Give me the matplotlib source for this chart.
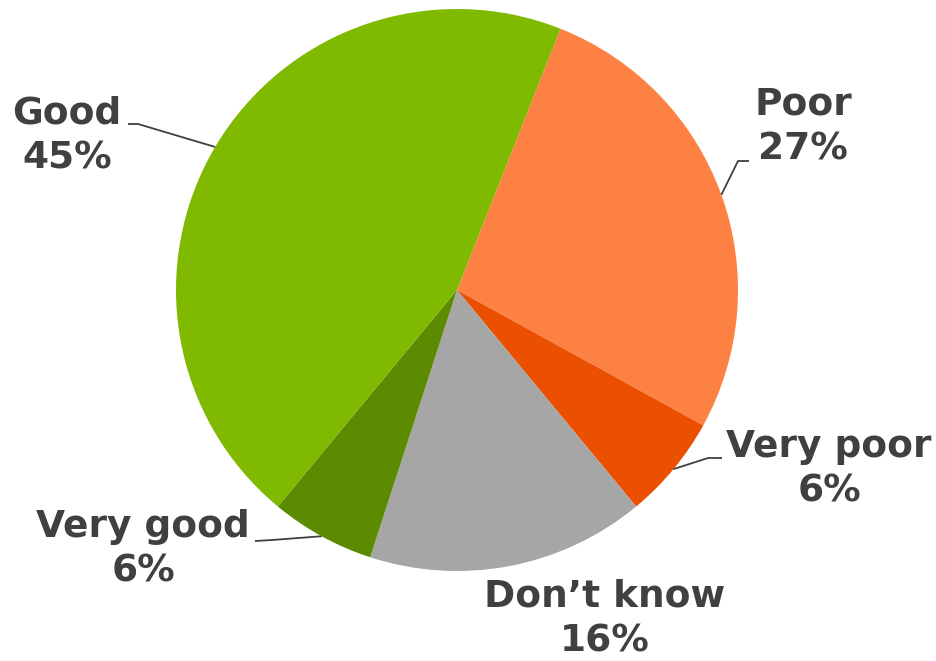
import numpy as np
import matplotlib.pyplot as plt

# data (clockwise from the top-right)
labels = ['Poor', 'Very poor', 'Don\u2019t know', 'Very good', 'Good']
values = [27, 6, 16, 6, 45]
colors = ['#FC8142', '#EA5000', '#A6A6A6', '#5C8A00', '#7FB900']

W, H = 936, 661
fig = plt.figure(figsize=(W / 100, H / 100), dpi=100)
ax = fig.add_axes([0, 0, 1, 1])

cx, cy, r = 457, H - 290, 281
wedges, _ = ax.pie(values, colors=colors, startangle=68.4, counterclock=False,
                   center=(cx, cy), radius=r, frame=True,
                   wedgeprops=dict(linewidth=0))
ax.set_xlim(0, W)
ax.set_ylim(0, H)
ax.set_aspect('equal')
ax.axis('off')

# label placement (pixel coords from top) and leader line elbows
text_pos = {
    'Poor': (803, 127),
    'Very poor': (829, 469),
    'Don\u2019t know': (605, 619),
    'Very good': (143, 549),
    'Good': (67, 136),
}
leaders = {
    'Poor': [(738, 161), (749, 161)],
    'Very poor': [(708, 458), (722, 458)],
    'Very good': [(272, 540), (255, 541)],
    'Good': [(138, 124), (128, 124)],
}

for w, lab, v in zip(wedges, labels, values):
    tx, ty = text_pos[lab]
    ax.text(tx, H - ty, f'{lab}\n{v}%', ha='center', va='center',
            fontsize=27, fontweight='bold', color='#404040',
            linespacing=1.3, family='DejaVu Sans')
    if lab in leaders:
        ang = np.deg2rad((w.theta1 + w.theta2) / 2)
        ex, ey = cx + r * np.cos(ang), cy + r * np.sin(ang)
        pts = [(ex, ey)] + [(px, H - py) for px, py in leaders[lab]]
        xs, ys = zip(*pts)
        ax.plot(xs, ys, color='#404040', lw=1.3, solid_capstyle='butt')

fig.savefig('out.png', dpi=100)
